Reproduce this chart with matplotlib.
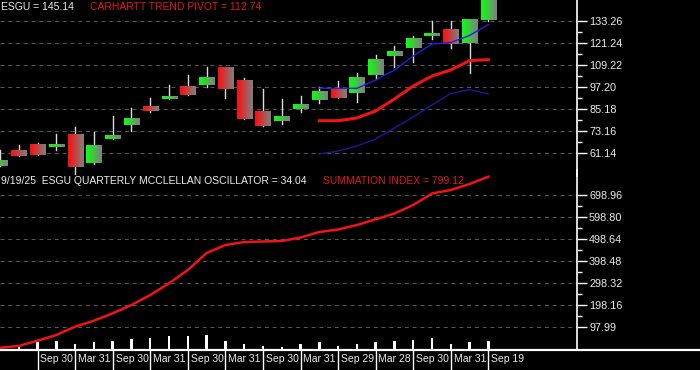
import numpy as np
import matplotlib.pyplot as plt
import matplotlib.transforms as mtransforms
from matplotlib.lines import Line2D
from matplotlib.ticker import FixedLocator

plt.rcParams['font.family'] = ['Liberation Sans', 'DejaVu Sans']

# quarterly ESGU candles (oldest first)
opens = [53.85, 62.60, 65.34, 64.41, 71.35, 55.65, 68.78, 76.27, 86.28, 90.49,
         97.60, 98.15, 107.61, 100.88, 83.55, 78.46, 84.86, 89.95, 95.80, 93.61,
         103.62, 114.17, 118.55, 125.11, 128.23, 120.95, 133.70]
highs = [62.60, 65.34, 66.59, 71.35, 75.01, 72.44, 81.19, 85.41, 90.88, 98.15,
         103.62, 108.16, 108.16, 102.14, 95.80, 90.33, 92.13, 96.89, 100.34, 104.88,
         114.56, 119.48, 124.95, 133.15, 133.31, 133.70, 145.14]
lows = [53.85, 59.48, 59.87, 62.60, 49.31, 54.94, 68.78, 73.16, 83.55, 90.49,
        92.68, 97.22, 91.20, 79.55, 75.73, 76.82, 83.38, 88.47, 91.20, 89.02,
        102.14, 108.16, 110.89, 123.31, 118.55, 104.55, 133.15]
closes = [57.13, 59.48, 59.87, 65.88, 53.47, 65.34, 70.80, 79.94, 83.93, 92.13,
          92.68, 101.98, 95.96, 79.55, 75.73, 81.19, 87.21, 94.48, 91.20, 102.14,
          112.20, 116.74, 123.69, 126.75, 120.41, 133.70, 145.14]

# indicator lines, starting at candle 17
line_start = 17
fast_trend = [96.34, 96.34, 96.34, 100.88, 106.35, 114.01, 120.57, 121.39, 125.22, 131.24]
trend_pivot = [78.62, 78.62, 80.10, 83.93, 90.49, 97.60, 103.07, 106.35, 111.5, 112.0]
slow_trend = [60.41, 62.05, 64.79, 68.62, 74.63, 80.65, 87.21, 93.50, 95.69, 93.23]

# lower panel
summation = [5.3, 13.1, 37.1, 63.0, 100.7, 128.0, 161.6, 199.3, 244.7, 297.8,
             358.2, 435.5, 471.8, 485.4, 487.7, 490.0, 505.9, 530.8, 542.2, 562.6,
             588.5, 614.9, 653.5, 705.7, 721.6, 748.9, 782.0]
oscillator = [15, 30, 38, 20, 30, 38, 47, 51, 57, 60, 65, 38, 20, 12, 10, 20,
              30, 12, 24, 30, 35, 42, 48, 20, 30, 34.04]  # candles 1..26

upper_ticks = [61.14, 73.16, 85.18, 97.20, 109.22, 121.24, 133.26]
lower_ticks = [97.99, 198.16, 298.32, 398.48, 498.64, 598.80, 698.96]
date_labels = ['Sep 30', 'Mar 31', 'Sep 30', 'Mar 31', 'Sep 30', 'Mar 31', 'Sep 30',
               'Mar 31', 'Sep 29', 'Mar 28', 'Sep 30', 'Mar 31', 'Sep 19']

W, H = 700, 370
fig = plt.figure(figsize=(W / 100, H / 100), dpi=100, facecolor='black')
ax1 = fig.add_axes([0, 1 - 176 / H, 577 / W, 176 / H])
ax2 = fig.add_axes([0, 1 - 349.5 / H, 577 / W, (349.5 - 170) / H])

grid_kw = dict(color='#5a5a5a', lw=0.7, linestyle=(0, (4, 4)))
for ax, ticks, lim in [(ax1, upper_ticks, (48.38, 144.64)), (ax2, lower_ticks, (-2.84, 812.45))]:
    ax.set_facecolor('none')
    ax.set_xlim(0, 30.72)
    ax.set_ylim(*lim)
    for s in ['top', 'left', 'bottom']:
        ax.spines[s].set_visible(False)
    ax.spines['right'].set_color('white')
    ax.spines['right'].set_linewidth(1.2)
    ax.yaxis.tick_right()
    ax.yaxis.set_major_locator(FixedLocator(ticks))
    mids = [(a + b) / 2 for a, b in zip(ticks[:-1], ticks[1:])]
    ax.yaxis.set_minor_locator(FixedLocator(mids))
    ax.set_yticklabels(['%.2f' % t for t in ticks])
    ax.tick_params(axis='y', which='major', length=7.5, width=1, color='white',
                   labelcolor='#ececec', labelsize=7.8, pad=1.2)
    ax.tick_params(axis='y', which='minor', length=3.8, width=1, color='white')
    ax.set_xticks([])
    for t in ticks:
        ax.axhline(t, zorder=0, **grid_kw)

# candles with a colour-to-grey gradient
idx = np.arange(len(opens))
bw = 0.8
for i in idx:
    o, h, l, c = opens[i], highs[i], lows[i], closes[i]
    ax1.plot([i, i], [l, h], color='#dcdcdc', lw=1.0, zorder=2)
    base = np.array([0.05, 1.0, 0.05]) if c >= o else np.array([1.0, 0.05, 0.05])
    grey = np.array([0.5, 0.5, 0.5])
    tt = np.linspace(0, 1, 20)[:, None]
    grad = (base * (1 - tt) + grey * tt)[None, :, :]
    ax1.imshow(grad, extent=(i - bw / 2, i + bw / 2, min(o, c), max(o, c)),
               aspect='auto', interpolation='bilinear', zorder=3)
ax1.set_xlim(0, 30.72)
ax1.set_ylim(48.38, 144.64)

li = np.arange(line_start, line_start + len(fast_trend))
ax1.plot(li, slow_trend, color='#1a1aa0', lw=1.0, zorder=4)
ax1.plot(li, trend_pivot, color='#f01414', lw=2.2, zorder=4)
ax1.plot(li, fast_trend, color='#2020e0', lw=1.0, zorder=4)

# lower panel
ax2.bar(np.arange(1, len(oscillator) + 1), oscillator, width=0.13, color='white', zorder=2)
ax2.plot(idx, summation, color='#f01414', lw=1.8, zorder=3)

# x axis line and date strip
fig.add_artist(Line2D([0, 1], [1 - 350 / H, 1 - 350 / H], color='white', lw=1.6))
trans = mtransforms.blended_transform_factory(ax2.transData, fig.transFigure)
label_pos = np.arange(2, 27, 2)
for p, lab in zip(label_pos, date_labels):
    ax2.plot([p, p], [0, 1 - 350 / H], color='white', lw=1.0, transform=trans, clip_on=False)
    ax2.text(p + 0.15, 1 - 359.5 / H, lab, color='#ececec', fontsize=7.5,
             ha='left', va='center', transform=trans)

fig.text(1 / W, 1 - 7.5 / H, 'ESGU = 145.14', color='#ececec', fontsize=7.5, va='center')
fig.text(90 / W, 1 - 7.5 / H, 'CARHARTT TREND PIVOT = 112.74', color='#e01818',
         fontsize=7.5, va='center')
fig.text(1 / W, 1 - 181 / H, '9/19/25  ESGU QUARTERLY MCCLELLAN OSCILLATOR = 34.04',
         color='#ececec', fontsize=7.5, va='center')
fig.text(323 / W, 1 - 181 / H, 'SUMMATION INDEX = 799.12', color='#e01818',
         fontsize=7.5, va='center')

fig.savefig('out.png', dpi=100, facecolor='black')
